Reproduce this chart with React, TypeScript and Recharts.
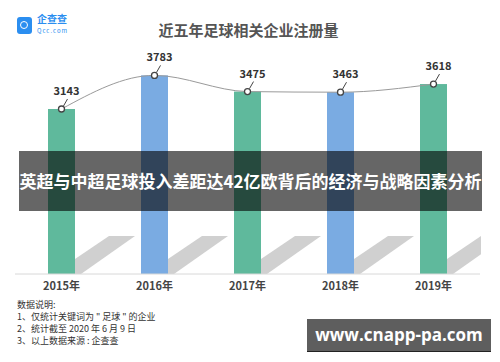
import { ComposedChart, Bar, Line, XAxis, YAxis, Cell, LabelList } from 'recharts'

const years = ['2015年', '2016年', '2017年', '2018年', '2019年']
const counts = [3143, 3783, 3475, 3463, 3618]
const palette = ['#5fb99c', '#7aabe2']

const title = '近五年足球相关企业注册量'
const notes = ['数据说明:', '1、仅统计关键词为 " 足球 " 的企业', '2、统计截至 2020 年 6 月 9 日', '3、以上数据来源 : 企查查']
const banner = '英超与中超足球投入差距达42亿欧背后的经济与战略因素分析'
const watermark = 'www.cnapp-pa.com'

const data = years.map((year, i) => ({ year, count: counts[i] }))

const CJK = '"Noto Sans CJK SC", "Noto Sans", sans-serif'

const BarWithShadow = (props: any) => {
  const { x, y, width, height, fill, index } = props
  const base = y + height
  const r = x + width
  const id = `clip-${index}`
  return (
    <g>
      <defs>
        <clipPath id={id}>
          <rect x={0} y={0} width={481} height={362} />
        </clipPath>
      </defs>
      <polygon
        clipPath={`url(#${id})`}
        points={`${r},${base - 15} ${r + 34},${base - 38} ${r + 60},${base - 38} ${r + 6},${base} ${r},${base}`}
        fill="#d0d0d0"
      />
      <rect x={x} y={y} width={width} height={height} fill={fill} />
    </g>
  )
}

const Dot = (props: any) => {
  const { cx, cy, index } = props
  return <circle key={`dot-${index}`} cx={cx} cy={cy} r={3} fill="#fff" stroke="#444" strokeWidth={1.3} />
}

const ValueLabel = (props: any) => {
  const { x, y, value } = props
  return (
    <g>
      <line x1={x + 2} y1={y - 3} x2={x + 6} y2={y - 10} stroke="#444" strokeWidth={1} />
      <text x={x + 5} y={y - 14} textAnchor="middle" fontSize={11} fontWeight="bold" fill="#333" fontFamily={CJK}>
        {value}
      </text>
    </g>
  )
}

export default function App() {
  return (
    <div style={{ position: 'absolute', left: 0, top: 0, width: 500, height: 362, background: '#fff', fontFamily: CJK }}>
      <div style={{ position: 'absolute', left: 17, top: 17, width: 15, height: 17, borderRadius: 3, background: '#2b8ef0' }}>
        <div style={{ position: 'absolute', left: 3, top: 4, width: 6, height: 6, borderRadius: '50%', border: '1.5px solid #fff' }} />
      </div>
      <div style={{ position: 'absolute', left: 37, top: 12, fontSize: 10, lineHeight: '14px', color: '#2b8ef0', fontWeight: 'bold' }}>企查查</div>
      <div style={{ position: 'absolute', left: 37, top: 27, fontSize: 6, lineHeight: '8px', color: '#2b8ef0', letterSpacing: 1 }}>Qcc.com</div>
      <div style={{ position: 'absolute', left: 0, top: 20, width: 497, textAlign: 'center', fontSize: 15, fontWeight: 'bold', color: '#555', lineHeight: '20px' }}>
        {title}
      </div>

      <div style={{ position: 'absolute', left: 0, top: 0 }}>
        <ComposedChart width={500} height={362} data={data} margin={{ top: 64, right: 20, left: 15, bottom: 0 }}>
          <XAxis
            dataKey="year"
            height={88}
            axisLine={{ stroke: '#d8d8d8' }}
            tickLine={false}
            tick={{ fontSize: 11, fontWeight: 'bold', fill: '#444', fontFamily: CJK }}
          />
          <YAxis hide domain={[0, 4000]} />
          <Bar dataKey="count" barSize={27} shape={BarWithShadow} isAnimationActive={false}>
            {data.map((d, i) => (
              <Cell key={d.year} fill={palette[i % 2]} />
            ))}
          </Bar>
          <Line type="monotone" dataKey="count" stroke="#9a9a9a" strokeWidth={1} dot={Dot} activeDot={false} isAnimationActive={false}>
            <LabelList dataKey="count" content={ValueLabel} />
          </Line>
        </ComposedChart>
      </div>

      <div style={{ position: 'absolute', left: 17, top: 299, fontSize: 9, color: '#333', lineHeight: '12px' }}>
        {notes.map((n) => (
          <div key={n} style={{ height: 12 }}>{n}</div>
        ))}
      </div>

      <div
        style={{
          position: 'absolute', left: 19, top: 151, width: 463, height: 60, background: 'rgba(0,0,0,0.6)',
          color: '#fff', fontSize: 17, fontWeight: 'bold', lineHeight: '60px', textAlign: 'center', whiteSpace: 'nowrap',
        }}
      >
        {banner}
      </div>

      <div
        style={{
          position: 'absolute', left: 307, top: 319, width: 184, height: 32, background: '#5e5e5e', borderBottom: '1px solid #222',
          color: '#fff', fontSize: 17, fontWeight: 'bold', lineHeight: '32px', textAlign: 'center', fontFamily: '"Open Sans", sans-serif',
        }}
      >
        {watermark}
      </div>
    </div>
  )
}
